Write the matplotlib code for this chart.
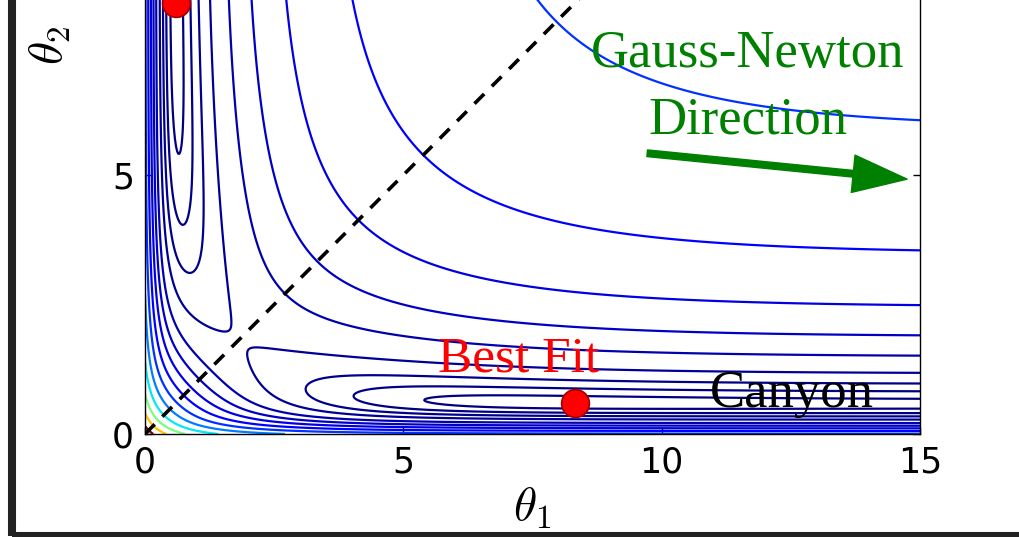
import numpy as np
import matplotlib
matplotlib.use("Agg")
import matplotlib.pyplot as plt
from matplotlib.patches import Rectangle

plt.rcParams['mathtext.fontset'] = 'cm'

# ---- data -------------------------------------------------------------
t_obs = np.array([1/3, 1.0, 3.0])          # observation times of the 2-exponential model
best_fit = [8.33, 0.6]                       # (theta1, theta2) of the best fit
best_fit_mirror = [0.6, 8.33]
levels = [0.009, 0.032, 0.065, 0.117, 0.205, 0.305, 0.436, 0.62, 0.876,
          1.24, 1.75, 2.48, 3.5, 4.96]
x_ticks = [0, 5, 10, 15]
y_ticks = [0, 5]
arrow_start = (9.72, 5.42)
arrow_end = (14.75, 4.92)

# ---- cost surface -----------------------------------------------------
data = np.exp(-best_fit[0] * t_obs) + np.exp(-best_fit[1] * t_obs)
th1 = np.linspace(0, 15, 700)
th2 = np.linspace(0, 15, 900)
T1, T2 = np.meshgrid(th1, th2)
model = np.exp(-T1[..., None] * t_obs) + np.exp(-T2[..., None] * t_obs)
cost = ((model - data) ** 2).sum(-1)

# ---- figure -----------------------------------------------------------
W, H = 1019, 537
fig = plt.figure(figsize=(W / 100, H / 100), dpi=100)
ax_left, ax_right, ax_bottom = 145, 920, 434
ax_h = 15 * 51.8
ax = fig.add_axes([ax_left / W, (H - ax_bottom) / H, (ax_right - ax_left) / W, ax_h / H])

ax.contour(T1, T2, cost, levels=levels, cmap='jet', linewidths=1.6)
ax.plot([0, 15], [0, 15], color='black', lw=2.6, linestyle=(0, (3.8, 3.0)))
ax.plot(*best_fit, 'o', color='red', mec='#a00000', mew=1.2, ms=20, clip_on=False, zorder=5)
ax.plot(*best_fit_mirror, 'o', color='red', mec='#a00000', mew=1.2, ms=20, clip_on=False, zorder=5)

serif = 'Liberation Serif'
ax.text(11.67, 7.08, 'Gauss-Newton', color='#008000', fontsize=38, family=serif,
        ha='center', va='baseline')
ax.text(11.67, 5.81, 'Direction', color='#008000', fontsize=38, family=serif,
        ha='center', va='baseline')
ax.text(5.67, 1.20, 'Best Fit', color='red', fontsize=37, family=serif,
        ha='left', va='baseline')
ax.text(10.93, 0.52, 'Canyon', color='black', fontsize=38, family=serif,
        ha='left', va='baseline')
ax.annotate('', xy=arrow_end, xytext=arrow_start,
            arrowprops=dict(facecolor='#008000', edgecolor='#008000',
                            width=4.8, headwidth=27, headlength=39, shrink=0))

ax.set_xlim(0, 15)
ax.set_ylim(0, 15)
ax.set_xticks(x_ticks)
ax.set_yticks(y_ticks)
ax.tick_params(direction='in', length=5, width=1, labelsize=25, pad=8,
               top=True, right=True)
ax.set_xlabel(r'$\theta_1$', fontsize=34, labelpad=4)
ax.set_ylabel(r'$\theta_2$', fontsize=34, labelpad=28)
for s in ax.spines.values():
    s.set_linewidth(1.0)

# outer frame of the (cropped) original figure
fig.patches.append(Rectangle((12 / W, 1 / H), 3000 / W, 3000 / H, fill=False,
                             edgecolor='#222222', linewidth=5.8,
                             transform=fig.transFigure, figure=fig))

fig.savefig('out.png', dpi=100)
